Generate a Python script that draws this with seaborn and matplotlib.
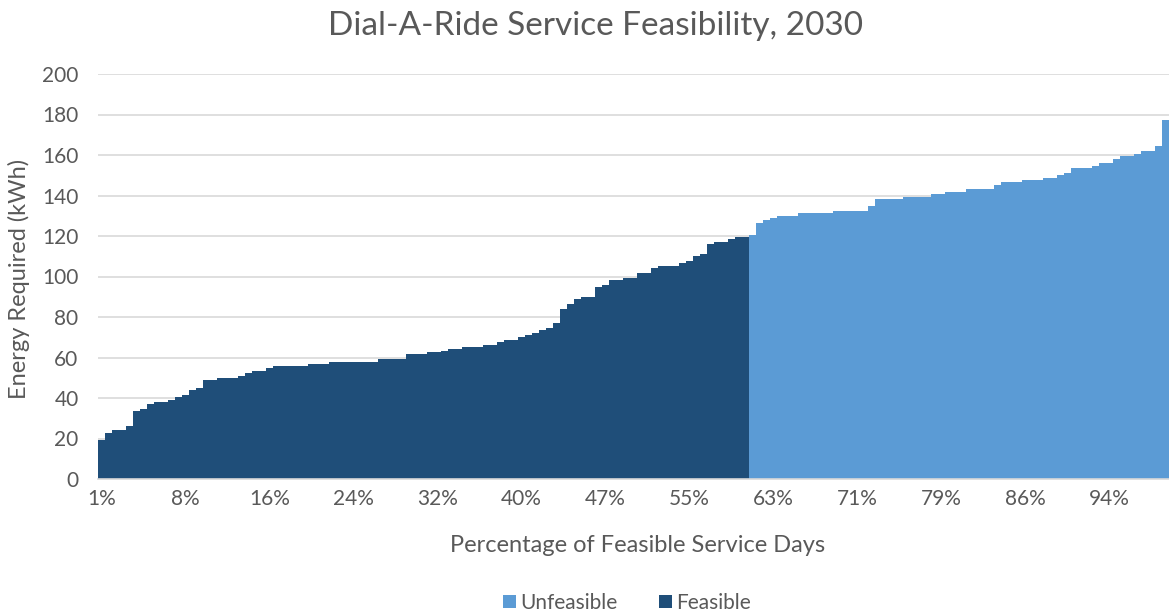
import numpy as np
import pandas as pd
import matplotlib
matplotlib.use("Agg")
import matplotlib.pyplot as plt
import seaborn as sns

sns.set_theme(style="white")
plt.rcParams['font.family'] = ['Lato', 'DejaVu Sans']

# energy per service day, sorted
feasible = [19.3, 22.6, 24.0, 24.0, 26.0, 33.6, 34.6, 36.9, 38.0, 38.0,
            39.2, 40.3, 41.5, 44.0, 45.1, 48.7, 48.7, 49.7, 49.7, 49.7,
            51.0, 52.2, 53.3, 53.3, 54.6, 55.8, 55.8, 55.8, 55.8, 55.8,
            56.8, 56.8, 56.8, 57.9, 57.9, 57.9, 57.9, 57.9, 57.9, 57.9,
            59.1, 59.1, 59.1, 59.1, 61.7, 61.7, 61.7, 62.7, 62.7, 63.0,
            64.0, 64.0, 65.2, 65.2, 65.2, 66.3, 66.3, 67.6, 68.5, 68.8,
            70.0, 71.1, 72.3, 73.6, 74.7, 77.0, 84.0, 86.4, 88.9, 89.9,
            89.9, 94.7, 95.8, 98.3, 98.3, 99.3, 99.3, 101.7, 101.7, 104.0,
            105.2, 105.2, 105.2, 106.5, 107.7, 110.0, 111.3, 115.9, 117.0, 117.0,
            118.4, 119.3, 119.3]
unfeasible = [120.5, 126.6, 127.7, 128.9, 130.0, 130.0, 130.0, 131.2, 131.2, 131.2,
              131.2, 131.2, 132.3, 132.3, 132.3, 132.3, 132.3, 134.8, 138.3, 138.3,
              138.3, 138.3, 139.4, 139.4, 139.4, 139.4, 140.6, 140.6, 141.7, 141.7,
              141.7, 143.1, 143.1, 143.1, 143.1, 145.4, 146.5, 146.5, 146.5, 147.7,
              147.7, 147.7, 148.8, 148.8, 150.1, 151.3, 153.6, 153.6, 153.6, 154.7,
              155.9, 155.9, 158.2, 159.5, 159.5, 160.7, 162.0, 162.0, 164.3, 177.3]
tick_labels = ["1%", "8%", "16%", "24%", "32%", "40%", "47%", "55%",
               "63%", "71%", "79%", "86%", "94%"]

values = feasible + unfeasible
status = ["Feasible"] * len(feasible) + ["Unfeasible"] * len(unfeasible)
df = pd.DataFrame({"day": np.arange(len(values)), "energy": values, "status": status})

text_col = "#595959"
grid_col = "#D9D9D9"

fig = plt.figure(figsize=(11.69, 6.12), dpi=100)
ax = fig.add_axes([98 / 1169, 133 / 612, 1071 / 1169, 405 / 612])

sns.barplot(data=df, x="day", y="energy", hue="status",
            hue_order=["Unfeasible", "Feasible"],
            palette={"Unfeasible": "#5B9BD5", "Feasible": "#1F4E79"},
            dodge=False, width=1.0, linewidth=0, saturation=1,
            antialiased=False, ax=ax)

ax.set_xlim(-0.5, len(values) - 0.5)
ax.set_ylim(0, 200)
ax.set_yticks(range(0, 201, 20))
ax.yaxis.grid(True, color=grid_col, linewidth=1.2)
ax.set_axisbelow(True)

ax.set_xticks(np.arange(0, len(values), 12)[:len(tick_labels)])
ax.set_xticklabels(tick_labels)
ax.set_xticks(np.arange(-0.5, len(values), 1), minor=True)
ax.tick_params(axis="x", which="major", length=0, pad=7, labelsize=15, labelcolor=text_col)
ax.tick_params(axis="x", which="minor", length=4, width=0.8, color="#BFBFBF", direction="out")
ax.tick_params(axis="y", length=0, pad=14, labelsize=15, labelcolor=text_col)

for s in ["top", "right", "left"]:
    ax.spines[s].set_visible(False)
ax.spines["bottom"].set_color(grid_col)
ax.spines["bottom"].set_linewidth(1.2)

ax.set_xlabel("Percentage of Feasible Service Days", fontsize=17, color=text_col)
ax.set_ylabel("Energy Required (kWh)", fontsize=17, color=text_col)
ax.xaxis.set_label_coords((638 - 98) / 1071, -(535 - 479) / 405)
ax.yaxis.set_label_coords(-(98 - 30) / 1071, (479 - 279) / 405)

fig.text(596 / 1169, 1 - 26 / 612, "Dial-A-Ride Service Feasibility, 2030",
         ha="center", va="center", fontsize=24, color=text_col)

ax.legend(loc="center", bbox_to_anchor=(627 / 1169, 9 / 612), bbox_transform=fig.transFigure,
          ncol=2, frameon=False, fontsize=15, labelcolor=text_col,
          handlelength=0.6, handleheight=0.6, handletextpad=0.2, columnspacing=2.0)

fig.savefig("out.png", dpi=100)
